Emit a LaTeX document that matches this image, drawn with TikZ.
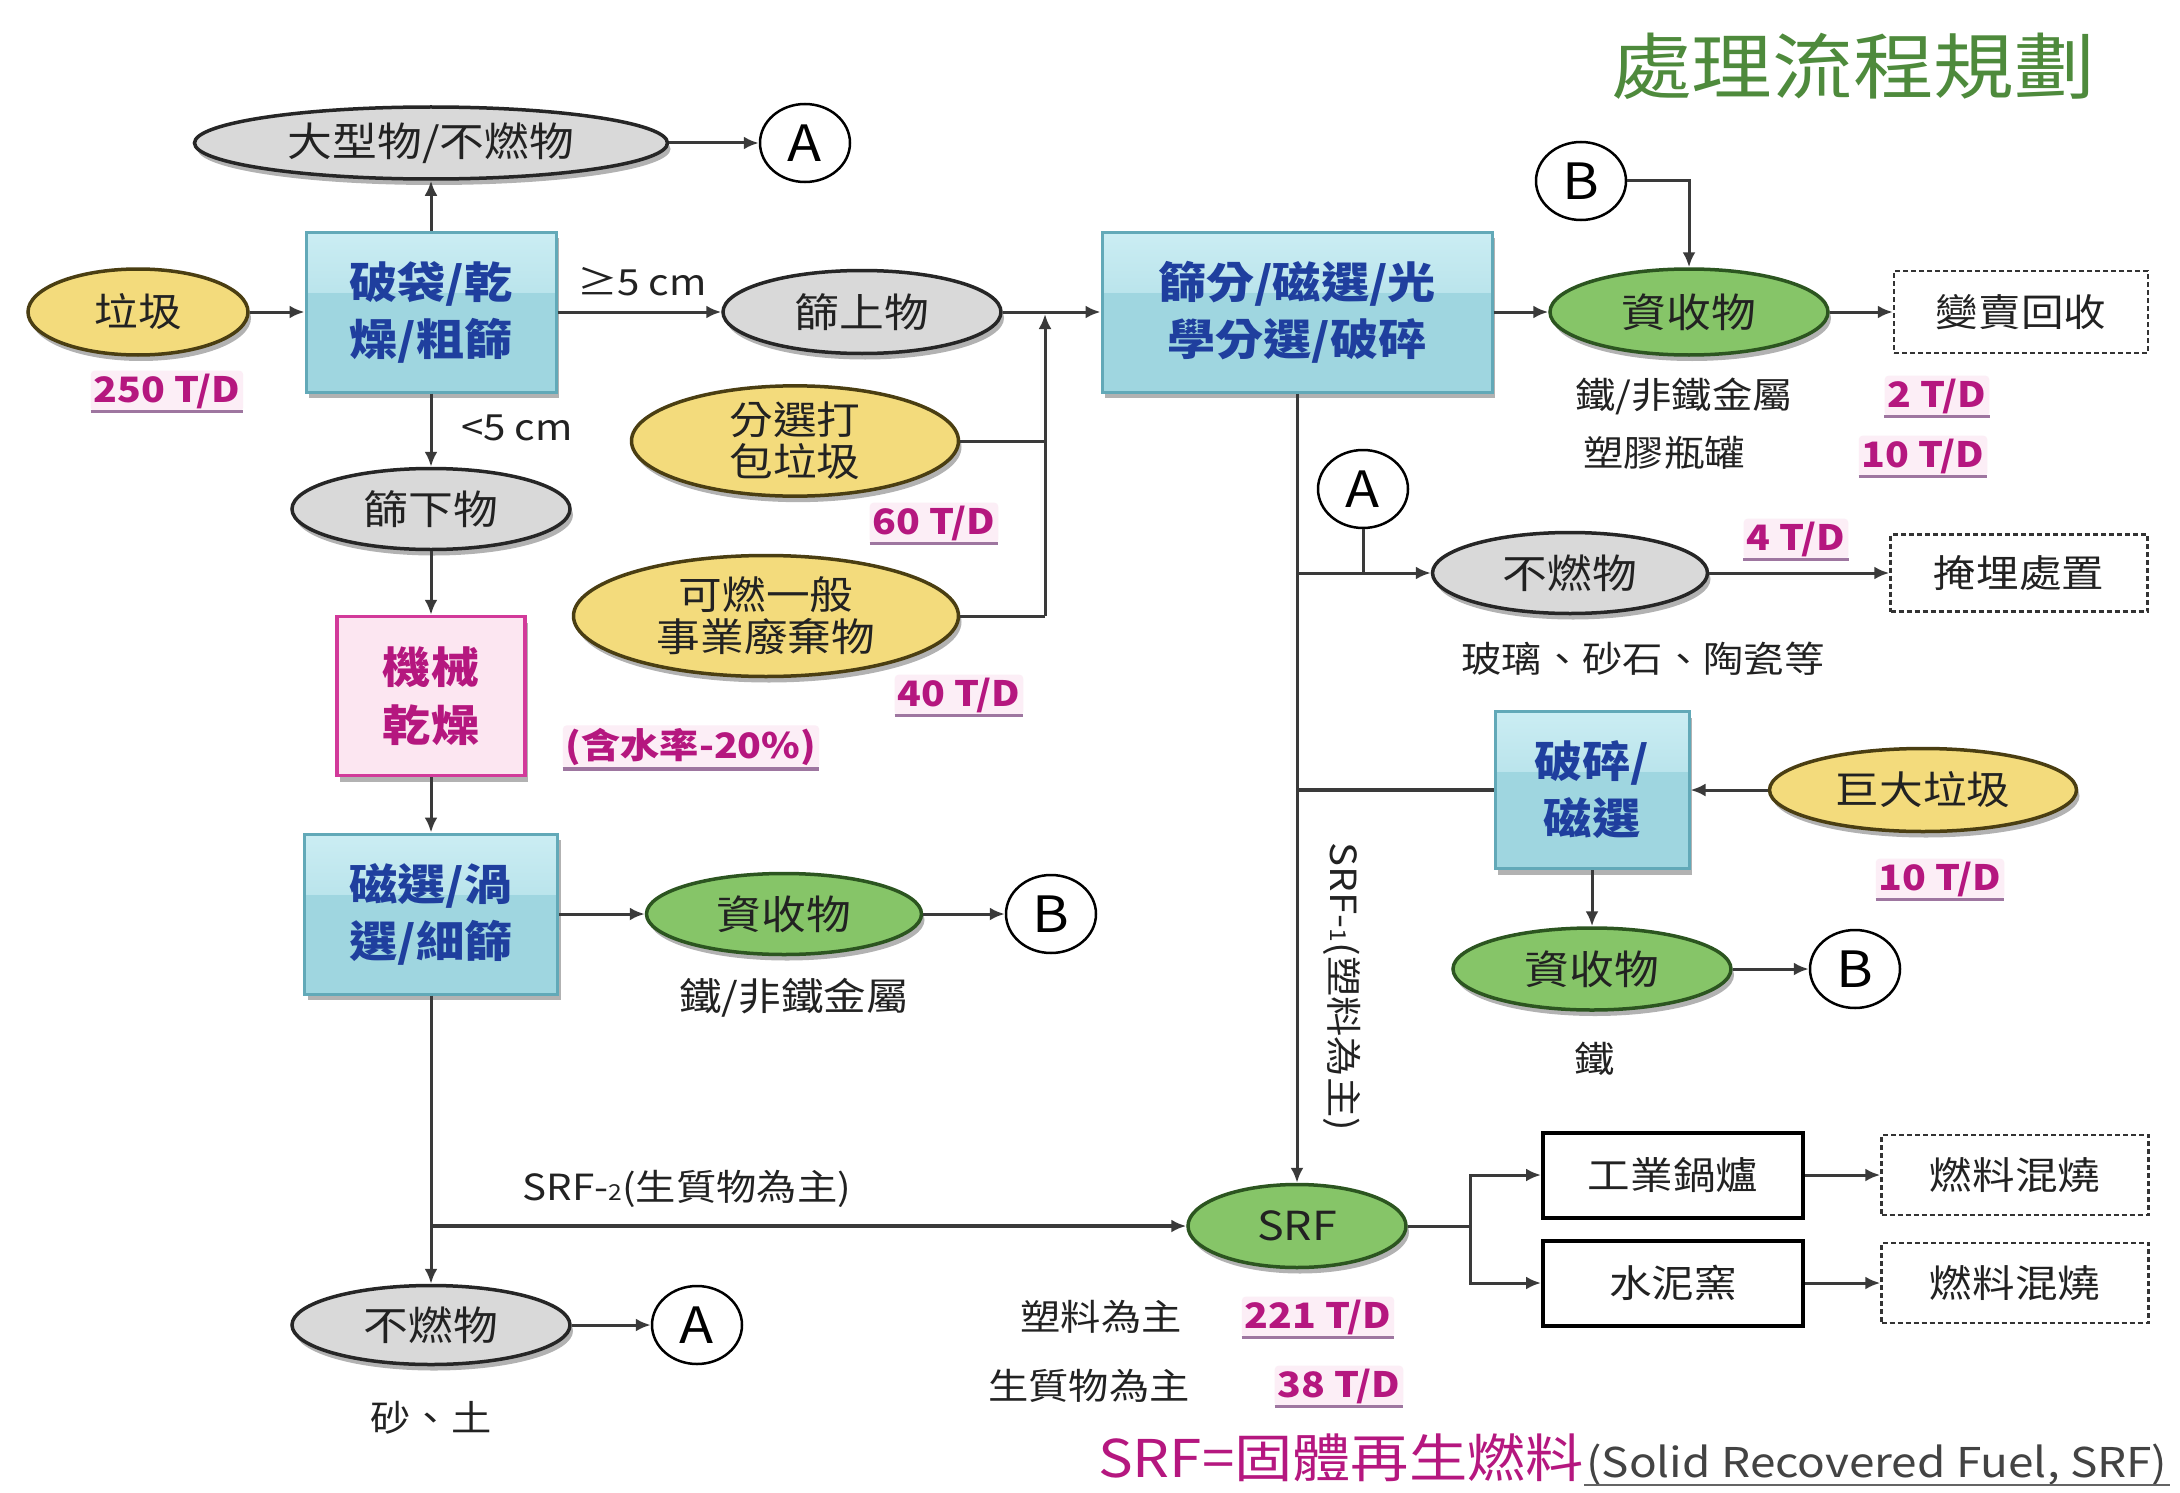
\documentclass[tikz,border=0pt]{standalone}
\usepackage{fontspec}
\setmainfont{Noto Sans CJK TC}[FakeStretch=1.12]
\usetikzlibrary{shapes.geometric,arrows.meta,shadows}
\newcommand\fsz[2]{\fontsize{#1}{#2}\selectfont}
\definecolor{lc}{HTML}{3A3A3A}
\definecolor{txt}{HTML}{222222}
\definecolor{ellgray}{HTML}{D9D9D9}
\definecolor{yel}{HTML}{F3DB7C}
\definecolor{yelb}{HTML}{4A3E12}
\definecolor{grn}{HTML}{86C568}
\definecolor{grnb}{HTML}{2C5520}
\definecolor{blfill}{HTML}{9FD6E0}
\definecolor{bltop}{HTML}{CBEDF3}
\definecolor{blb}{HTML}{62A9B8}
\definecolor{bltext}{HTML}{1F3F9E}
\definecolor{pkfill}{HTML}{FCE6F1}
\definecolor{pkb}{HTML}{D23A9A}
\definecolor{mag}{HTML}{B5177F}
\definecolor{ulc}{HTML}{9E76A0}
\definecolor{glow}{HTML}{FCEEF6}
\definecolor{ttl}{HTML}{4E8A3C}
\tikzset{
  every node/.style={inner sep=0pt, align=center},
  conn/.style={draw=lc, line width=3pt},
  arr/.style={conn, -{Latex[length=15pt,width=13pt]}},
  sh/.style={drop shadow={shadow xshift=3pt, shadow yshift=-6pt, opacity=0.3, fill=black}},
  grayell/.style={ellipse, draw=black!85, line width=3.5pt, fill=ellgray, sh, font=\fsz{40}{44}, text=txt},
  yelell/.style={ellipse, draw=yelb, line width=3.5pt, fill=yel, sh, font=\fsz{39}{42}, text=txt},
  grnell/.style={ellipse, draw=grnb, line width=3.5pt, fill=grn, sh, font=\fsz{40}{44}, text=txt},
  bluebox/.style={rectangle, draw=blb, line width=3pt, fill=blfill, sh,
    path picture={\shade[top color=bltop, bottom color=blfill] (path picture bounding box.north west) rectangle ([yshift=-60pt]path picture bounding box.north east);},
    font=\bfseries\fsz{43}{57}, text=bltext},
  pinkbox/.style={rectangle, draw=pkb, line width=3.5pt, fill=pkfill, sh, font=\bfseries\fsz{43}{58}, text=mag},
  circ/.style={ellipse, draw=black, line width=2.5pt, fill=white, minimum width=90pt, minimum height=78pt, font=\fsz{50}{50}},
  dashbox/.style={rectangle, draw=black!80, line width=2.5pt, dash pattern=on 5pt off 3pt, fill=white, font=\fsz{38}{40}, text=txt},
  solidbox/.style={rectangle, draw=black, line width=4pt, fill=white, font=\fsz{38}{40}, text=txt},
  lbl/.style={font=\fsz{36}{40}, text=txt},
  td/.style={font=\bfseries\fsz{35}{38}, text=mag, inner sep=3pt, fill=glow, rounded corners=4pt,
    append after command={(\tikzlastnode.south west) edge[draw=ulc, line width=3.5pt, sharp corners] (\tikzlastnode.south east)}},
}
\begin{document}
\begin{tikzpicture}[x=1pt,y=-1pt]
\useasboundingbox[fill=white] (0,0) rectangle (2180,1493);

% title
\node[font=\fsz{72}{72}, text=ttl] (title) at (1853,66) {處理流程規劃};

% left column
\node[grayell, minimum width=473pt, minimum height=72pt] (big) at (431,143) {大型物/不燃物};
\node[circ] (A1) at (805,143) {A};
\node[yelell, minimum width=220pt, minimum height=86pt] (trash) at (138,312) {垃圾};
\node[td] (t250) at (167,391) {250 T/D};
\node[bluebox, minimum width=250pt, minimum height=160pt] (b1) at (431,312) {破袋/乾\\燥/粗篩};
\node[grayell, minimum width=278pt, minimum height=83pt] (upper) at (862,312) {篩上物};
\node[lbl] (ge5) at (642,282) {≥5 cm};
\node[lbl] (lt5) at (517,428) {<5 cm};
\node[yelell, minimum width=327pt, minimum height=93pt] (sort) at (795,441) {分選打\\包垃圾};
\node[td] (t60) at (934,523) {60 T/D};
\node[yelell, minimum width=385pt, minimum height=121pt] (comb) at (766,616) {可燃一般\\事業廢棄物};
\node[td] (t40) at (959,695) {40 T/D};
\node[grayell, minimum width=278pt, minimum height=81pt] (lower) at (431,509) {篩下物};
\node[pinkbox, minimum width=188pt, minimum height=159pt] (dry) at (431,696) {機械\\乾燥};
\node[td] (water) at (691,747) {(含水率-20\%)};
\node[bluebox, minimum width=253pt, minimum height=160pt] (b3) at (431,914) {磁選/渦\\選/細篩};
\node[grnell, minimum width=275pt, minimum height=81pt] (rec2) at (784,914) {資收物};
\node[lbl, font=\fsz{38}{40}] (fe2) at (794,998) {鐵/非鐵金屬};
\node[circ] (B2) at (1051,914) {B};
\node[grayell, minimum width=278pt, minimum height=79pt] (nonc1) at (431,1325) {不燃物};
\node[circ] (A3) at (697,1325) {A};
\node[lbl] (sand) at (431,1418) {砂、土};
\node[lbl] (srf2) at (687,1189) {SRF-{\fsz{22}{22}2}(生質物為主)};

% middle/right
\node[bluebox, minimum width=390pt, minimum height=160pt] (b2) at (1297,312) {篩分/磁選/光\\學分選/破碎};
\node[grnell, minimum width=278pt, minimum height=86pt] (rec1) at (1689,312) {資收物};
\node[circ] (B1) at (1581,181) {B};
\node[dashbox, minimum width=254pt, minimum height=82pt] (sell) at (2021,312) {變賣回收};
\node[lbl] (fe1) at (1684,396) {鐵/非鐵金屬};
\node[td] (t2) at (1937,396) {2 T/D};
\node[lbl] (pl) at (1664,453) {塑膠瓶罐};
\node[td] (t10a) at (1923,456) {10 T/D};
\node[circ] (A2) at (1363,489) {A};
\node[grayell, minimum width=275pt, minimum height=81pt] (nonc2) at (1570,573) {不燃物};
\node[td] (t4) at (1796,539) {4 T/D};
\node[dashbox, minimum width=257pt, minimum height=77pt] (bury) at (2019,573) {掩埋處置};
\node[lbl] (glass) at (1643,659) {玻璃、砂石、陶瓷等};
\node[bluebox, minimum width=194pt, minimum height=157pt] (b4) at (1592,790) {破碎/\\磁選};
\node[yelell, minimum width=307pt, minimum height=83pt] (giant) at (1923,790) {巨大垃圾};
\node[td] (t10b) at (1940,879) {10 T/D};
\node[grnell, minimum width=278pt, minimum height=82pt] (rec3) at (1592,969) {資收物};
\node[circ] (B3) at (1855,969) {B};
\node[lbl] (fe3) at (1595,1059) {鐵};
\node[lbl, rotate=-90] (srf1) at (1342,987) {SRF-{\fsz{22}{22}1}(塑料為主)};
\node[grnell, minimum width=218pt, minimum height=83pt] (srf) at (1297,1226) {SRF};
\node[solidbox, minimum width=260pt, minimum height=85pt] (boiler) at (1673,1175) {工業鍋爐};
\node[solidbox, minimum width=260pt, minimum height=85pt] (kiln) at (1673,1283) {水泥窯};
\node[dashbox, minimum width=267pt, minimum height=80pt] (mix1) at (2015,1175) {燃料混燒};
\node[dashbox, minimum width=267pt, minimum height=80pt] (mix2) at (2015,1283) {燃料混燒};
\node[lbl, anchor=east] (plas) at (1182,1317) {塑料為主};
\node[td] (t221) at (1318,1317) {221 T/D};
\node[lbl, anchor=east] (bio) at (1190,1386) {生質物為主};
\node[td] (t38) at (1339,1386) {38 T/D};

% bottom definition
\node[anchor=base west, font=\fsz{52}{56}, text=mag] (def) at (1098,1477) {SRF=固體再生燃料};
\node[anchor=base west, font=\fsz{41}{44}, text=txt!85, inner xsep=2pt, inner ysep=0pt,
  append after command={(\tikzlastnode.south west) edge[draw=txt!70, line width=2pt] (\tikzlastnode.south east)}]
  (defen) at (def.base east) {(Solid Recovered Fuel, SRF)};

% connectors
\draw[arr] (trash) -- (b1);
\draw[arr] (b1) -- (big);
\draw[arr] (big) -- (A1);
\draw[arr] (b1) -- (upper);
\draw[arr] (upper) -- (b2);
\coordinate (jtop) at (1045,314);
\coordinate (jbot) at (1045,616);
\draw[conn] (sort.east) -- (sort.east -| jbot);
\draw[conn] (comb.east) -- (jbot);
\draw[arr] (jbot) -- (jtop);
\draw[arr] (b1) -- (lower);
\draw[arr] (lower) -- (dry);
\draw[arr] (dry) -- (b3);
\draw[arr] (b3) -- (rec2);
\draw[arr] (rec2) -- (B2);
\draw[arr] (b3) -- (nonc1);
\draw[arr] (nonc1) -- (A3);
\draw[arr, line width=4.5pt] (b3.south |- srf.west) -- (srf.west);

\draw[arr] (b2) -- (rec1);
\draw[arr] (rec1) -- (sell);
\draw[arr] (B1.east) -| (rec1.north);
\draw[arr] (b2.south) -- (srf.north);
\draw[arr] (b2.south |- nonc2.west) -- (nonc2.west);
\draw[conn] (A2.south) -- (A2.south |- nonc2.west);
\draw[arr] (nonc2) -- (bury);
\draw[arr] (giant) -- (b4);
\draw[conn, line width=4.5pt] (b4.west) -- (b4.west -| b2.south);
\draw[arr] (b4) -- (rec3);
\draw[arr] (rec3) -- (B3);
\coordinate (sj) at (1470,1226);
\draw[conn] (srf.east) -- (sj);
\draw[arr] (sj) |- (boiler.west);
\draw[arr] (sj) |- (kiln.west);
\draw[arr] (boiler) -- (mix1);
\draw[arr] (kiln) -- (mix2);
\end{tikzpicture}
\end{document}
